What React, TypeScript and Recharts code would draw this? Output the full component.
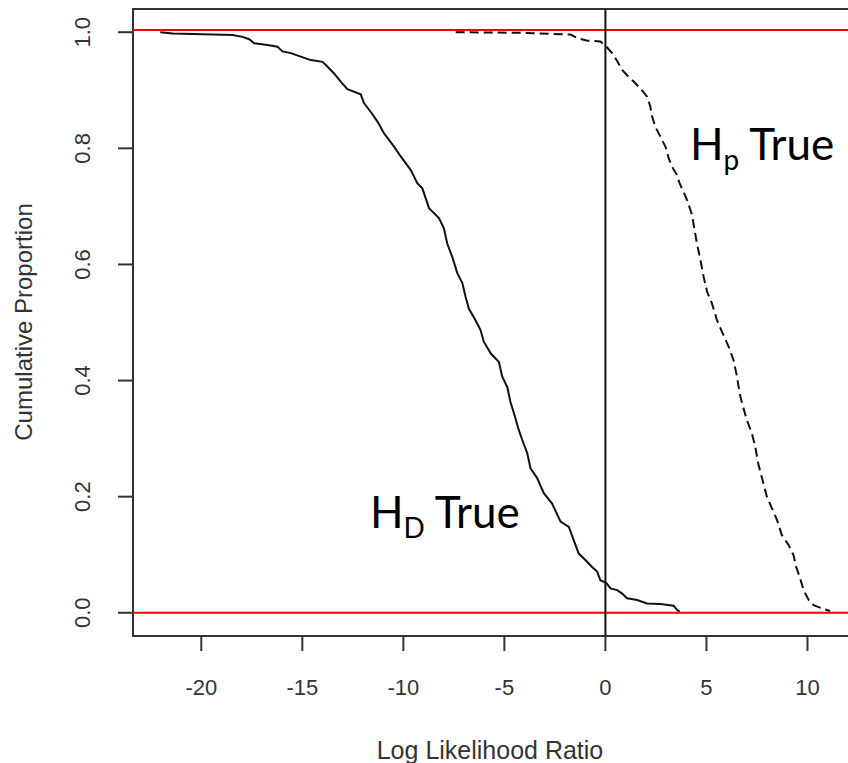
import { ComposedChart, Line, XAxis, YAxis, ReferenceLine, ReferenceArea } from 'recharts';

// H_D true: log likelihood ratio vs cumulative proportion (solid)
const hdLlr = [
  -22.03, -21.4, -18.45, -17.96, -17.63, -17.38, -16.72, -16.23, -15.98, -15.57,
  -15.08, -14.58, -14.0, -13.76, -13.43, -13.1, -12.77, -12.11, -11.95, -11.62,
  -11.28, -10.96, -10.46, -10.13, -9.64, -9.31, -9.06, -8.73, -8.24, -7.99,
  -7.83, -7.58, -7.33, -7.08, -6.92, -6.76, -6.43, -6.18, -6.02, -5.68,
  -5.27, -5.11, -4.86, -4.7, -4.53, -4.29, -4.12, -3.87, -3.71, -3.38,
  -3.05, -2.64, -2.22, -1.81, -1.57, -1.32, -0.99, -0.66, -0.41, -0.25,
  0.05, 0.25, 0.58, 0.83, 1.07, 1.57, 2.06, 2.72, 3.38, 3.54, 3.67,
];
const hdProp = [
  1.0, 0.9976, 0.9953, 0.992, 0.988, 0.981, 0.978, 0.975, 0.967, 0.964,
  0.958, 0.952, 0.949, 0.941, 0.929, 0.915, 0.902, 0.893, 0.878, 0.863,
  0.846, 0.826, 0.803, 0.786, 0.763, 0.74, 0.731, 0.697, 0.68, 0.662,
  0.636, 0.613, 0.585, 0.568, 0.544, 0.524, 0.504, 0.487, 0.467, 0.447,
  0.432, 0.407, 0.389, 0.363, 0.344, 0.315, 0.298, 0.275, 0.249, 0.232,
  0.206, 0.188, 0.157, 0.148, 0.125, 0.102, 0.091, 0.079, 0.071, 0.056,
  0.051, 0.042, 0.039, 0.033, 0.025, 0.022, 0.016, 0.015, 0.012, 0.005, 0.002,
];

// H_p true (dashed)
const hpLlr = [
  -7.41, -4.12, -1.73, -1.4, -0.9, -0.25, 0.05, 0.33, 0.58, 0.83,
  1.15, 1.4, 1.73, 2.06, 2.22, 2.31, 2.47, 2.72, 2.97, 3.13,
  3.3, 3.54, 3.67, 4.04, 4.29, 4.37, 4.53, 4.7, 4.86, 5.03,
  5.27, 5.52, 5.77, 6.1, 6.34, 6.51, 6.64, 6.76, 7.0, 7.25,
  7.41, 7.58, 7.75, 7.99, 8.24, 8.49, 8.73, 9.06, 9.31, 9.44,
  9.61, 9.81, 10.06, 10.3, 10.71, 11.12,
];
const hpProp = [
  1.0, 0.999, 0.996, 0.99, 0.9855, 0.984, 0.975, 0.964, 0.9505, 0.935,
  0.923, 0.915, 0.903, 0.889, 0.872, 0.855, 0.837, 0.82, 0.803, 0.783,
  0.768, 0.754, 0.74, 0.711, 0.685, 0.668, 0.636, 0.608, 0.579, 0.553,
  0.533, 0.504, 0.484, 0.458, 0.435, 0.407, 0.378, 0.361, 0.332, 0.309,
  0.287, 0.254, 0.232, 0.2, 0.18, 0.16, 0.134, 0.117, 0.099, 0.079,
  0.062, 0.039, 0.022, 0.013, 0.0076, 0.003,
];

const xTicks = [-20, -15, -10, -5, 0, 5, 10];
const yTicks = [0, 0.2, 0.4, 0.6, 0.8, 1.0];
const xRange = [-23.38, 12.45];
const yRange = [-0.04, 1.04];
const redLines = [0, 1.004];

const hdData = hdLlr.map((x, i) => ({ x, y: hdProp[i] }));
const hpData = hpLlr.map((x, i) => ({ x, y: hpProp[i] }));

const axisFont = '"Liberation Sans", Arial, sans-serif';
const noteFont = 'Lato, "Open Sans", sans-serif';

function XTick({ x, y, payload }: any) {
  return (
    <text x={x} y={y} dy="0.71em" textAnchor="middle" fontSize={22} fill="#333" fontFamily={axisFont}>
      {payload.value}
    </text>
  );
}

function YTick({ x, y, payload }: any) {
  return (
    <text x={x} y={y} transform={`rotate(-90 ${x} ${y})`} textAnchor="middle" fontSize={22} fill="#333" fontFamily={axisFont}>
      {payload.value.toFixed(1)}
    </text>
  );
}

export default function App() {
  return (
    <div style={{ position: 'absolute', left: 0, top: 0, width: 848, height: 763, overflow: 'hidden', background: '#fff' }}>
      <ComposedChart width={857} height={763} margin={{ top: 9, right: 0, bottom: 0, left: 0 }}>
        <XAxis
          type="number"
          dataKey="x"
          domain={xRange}
          ticks={xTicks}
          allowDataOverflow
          height={127}
          axisLine={false}
          tickLine={{ stroke: '#333', strokeWidth: 2 }}
          tickSize={15}
          tickMargin={28}
          tick={<XTick />}
        />
        <YAxis
          type="number"
          dataKey="y"
          domain={yRange}
          ticks={yTicks}
          allowDataOverflow
          width={133}
          axisLine={false}
          tickLine={{ stroke: '#333', strokeWidth: 2 }}
          tickSize={15}
          tickMargin={28}
          tick={<YTick />}
        />
        <ReferenceArea
          x1={xRange[0]}
          x2={xRange[1]}
          y1={yRange[0]}
          y2={yRange[1]}
          fill="none"
          stroke="#333"
          strokeWidth={2}
          ifOverflow="visible"
        />
        {redLines.map((v) => (
          <ReferenceLine key={v} y={v} stroke="#ff0000" strokeWidth={2} />
        ))}
        <ReferenceLine x={0} stroke="#111" strokeWidth={2} />
        <Line
          data={hdData}
          dataKey="y"
          type="linear"
          stroke="#111"
          strokeWidth={2}
          dot={false}
          isAnimationActive={false}
        />
        <Line
          data={hpData}
          dataKey="y"
          type="linear"
          stroke="#111"
          strokeWidth={2}
          strokeDasharray="9 5"
          dot={false}
          isAnimationActive={false}
        />
      </ComposedChart>
      <svg width={848} height={763} style={{ position: 'absolute', left: 0, top: 0, pointerEvents: 'none' }}>
        <text x={23} y={322} transform="rotate(-90 23 322)" textAnchor="middle" dominantBaseline="central" fontSize={24} fill="#333" fontFamily={axisFont}>
          Cumulative Proportion
        </text>
        <text x={490} y={750} textAnchor="middle" dominantBaseline="central" fontSize={25} fill="#333" fontFamily={axisFont}>
          Log Likelihood Ratio
        </text>
        <text x={690} y={160} fontSize={44} fill="#000" fontFamily={noteFont}>
          H<tspan fontSize={28} dy={10}>p</tspan>
          <tspan dy={-10}> True</tspan>
        </text>
        <text x={370} y={528} fontSize={44} fill="#000" fontFamily={noteFont}>
          H<tspan fontSize={28} dy={10}>D</tspan>
          <tspan dy={-10}> True</tspan>
        </text>
      </svg>
    </div>
  );
}
